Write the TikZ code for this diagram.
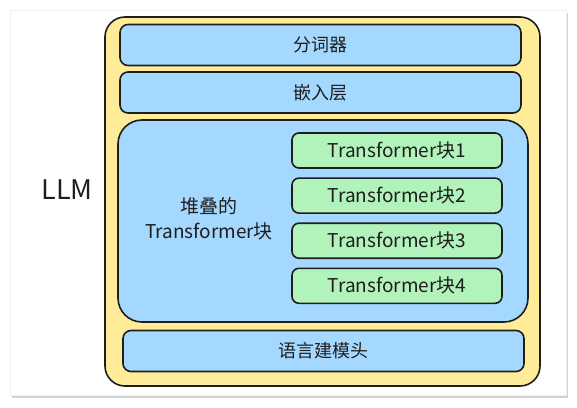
\documentclass[tikz,border=0pt]{standalone}
\usepackage{fontspec}
\setmainfont{Noto Sans CJK SC}
\usepackage{xcolor}
\usetikzlibrary{positioning}
\usetikzlibrary{shadows}
\definecolor{inkDark}{HTML}{1E1E1E}
\definecolor{llmYellow}{HTML}{FFEC99}
\definecolor{layerBlue}{HTML}{A5D8FF}
\definecolor{blockGreen}{HTML}{B2F2BB}
\tikzset{%
  card/.style={rectangle, draw=black!6, fill=white, minimum width=556pt, minimum height=385pt,
    drop shadow={shadow xshift=2pt, shadow yshift=-3pt, opacity=.35}},
  %
  llmFrame/.style={rectangle, rounded corners=20pt, draw=inkDark, fill=llmYellow, line width=1.6pt},
  layer/.style={rectangle, rounded corners=8pt, draw=inkDark, fill=layerBlue, line width=1.6pt,
    minimum width=401pt, minimum height=41pt, text=inkDark, font=\fontsize{18}{22}\selectfont},% blue layer
  blockStack/.style={rectangle, rounded corners=24pt, draw=inkDark, fill=layerBlue, line width=1.6pt},
  tfBlock/.style={rectangle, rounded corners=7pt, draw=inkDark, fill=blockGreen, line width=1.6pt,
    minimum width=210pt, minimum height=35pt, text=inkDark, font=\fontsize{19}{22}\selectfont},% green block
  plainLabel/.style={text=inkDark, align=center, font=\fontsize{19}{25}\selectfont}}

\begin{document}
\begin{tikzpicture}[x=1pt, y=-1pt]
    \useasboundingbox (0,0) rectangle (577,407);

    %Frames
    \node[card] (card) at (288,202.5) {};
    \node[llmFrame, minimum width=435pt, minimum height=369pt] (llm) at (322.5,201.5) {};
    \node[plainLabel, font=\fontsize{27}{30}\selectfont] (llmName) at (67,190) {LLM};

    %Layers
    \node[layer] (tokenizer) at (320.5,45) {分词器};
    \node[layer] (embedding) at (320.5,92.5) {嵌入层};
    \node[blockStack, minimum width=410pt, minimum height=202pt] (stack) at (323,221) {};
    \node[plainLabel] (stackName) at (209,219) {堆叠的\\Transformer块};
    \node[layer] (lmHead) at (323.5,351) {语言建模头};

    %Blocks
    \node[tfBlock] (block1) at (397,150.5) {Transformer块1};
    \node[tfBlock] (block2) [below=8.5pt of block1] {Transformer块2};
    \node[tfBlock] (block3) [below=8.5pt of block2] {Transformer块3};
    \node[tfBlock] (block4) [below=8.5pt of block3] {Transformer块4};
\end{tikzpicture}
\end{document}
